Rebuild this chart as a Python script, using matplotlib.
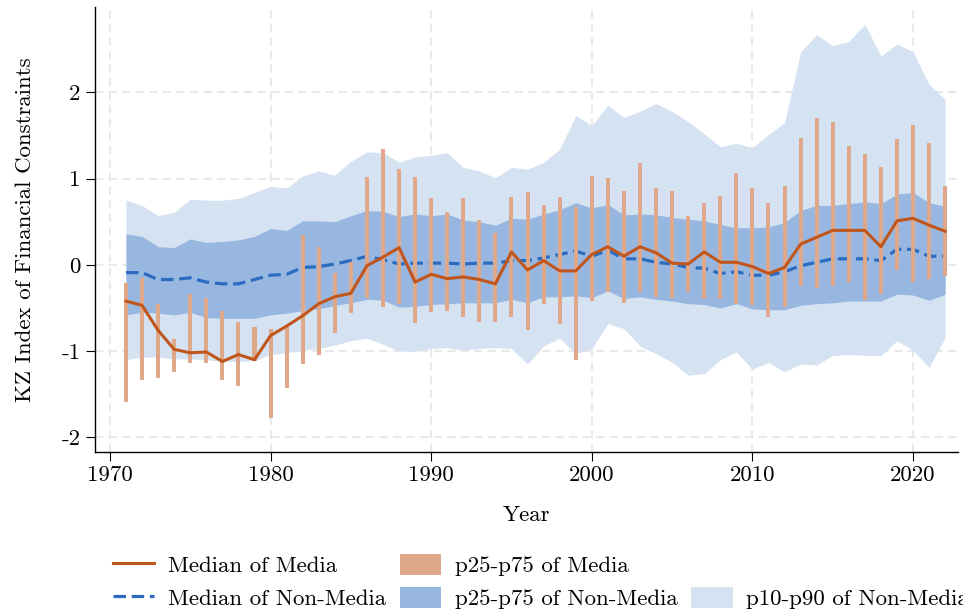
import numpy as np
import matplotlib
matplotlib.use("Agg")
import matplotlib.pyplot as plt
from matplotlib.patches import Patch
from matplotlib.lines import Line2D

plt.rcParams['font.family'] = ['cmr10', 'DejaVu Serif']
plt.rcParams['axes.unicode_minus'] = False
plt.rcParams['axes.formatter.use_mathtext'] = True

years = list(range(1971, 2023))

media_med = [-0.42, -0.47, -0.76, -0.98, -1.02, -1.01, -1.12, -1.04, -1.10, -0.82,
             -0.71, -0.59, -0.45, -0.37, -0.33, -0.01, 0.09, 0.20, -0.20, -0.11,
             -0.16, -0.14, -0.17, -0.22, 0.15, -0.06, 0.05, -0.07, -0.07, 0.12,
             0.21, 0.10, 0.21, 0.14, 0.02, 0.01, 0.15, 0.03, 0.03, -0.02,
             -0.10, -0.03, 0.24, 0.32, 0.40, 0.40, 0.40, 0.21, 0.51, 0.54,
             0.46, 0.39]

media_p25 = [-1.59, -1.34, -1.31, -1.24, -1.14, -1.14, -1.34, -1.40, -1.11, -1.78,
             -1.43, -1.15, -1.04, -0.79, -0.56, -0.38, -0.49, -0.45, -0.67, -0.55,
             -0.54, -0.60, -0.66, -0.66, -0.61, -0.76, -0.45, -0.68, -1.10, -0.42,
             -0.31, -0.44, -0.31, -0.37, -0.39, -0.31, -0.40, -0.40, -0.45, -0.47,
             -0.61, -0.49, -0.25, -0.27, -0.25, -0.20, -0.41, -0.34, -0.06, -0.20,
             -0.16, -0.13]

media_p75 = [-0.21, -0.15, -0.45, -0.86, -0.34, -0.39, -0.53, -0.66, -0.72, -0.74,
             -0.72, 0.35, 0.21, -0.09, 0.03, 1.02, 1.34, 1.11, 1.02, 0.77,
             0.61, 0.77, 0.52, 0.37, 0.79, 0.84, 0.69, 0.79, 0.67, 1.03,
             1.01, 0.86, 1.18, 0.89, 0.86, 0.57, 0.72, 0.80, 1.06, 0.89,
             0.72, 0.92, 1.47, 1.70, 1.66, 1.38, 1.29, 1.14, 1.46, 1.62,
             1.41, 0.92]

nonmedia_med = [-0.09, -0.09, -0.17, -0.17, -0.15, -0.20, -0.22, -0.22, -0.17, -0.12,
                -0.11, -0.03, -0.02, 0.01, 0.05, 0.10, 0.06, 0.01, 0.02, 0.02,
                0.02, 0.01, 0.02, 0.02, 0.05, 0.05, 0.08, 0.12, 0.16, 0.10,
                0.17, 0.07, 0.07, 0.03, 0.01, -0.03, -0.04, -0.10, -0.08, -0.12,
                -0.12, -0.08, -0.01, 0.03, 0.07, 0.07, 0.07, 0.05, 0.18, 0.18,
                0.10, 0.10]

nonmedia_p25 = [-0.58, -0.55, -0.56, -0.58, -0.55, -0.61, -0.62, -0.62, -0.62, -0.58,
                -0.56, -0.53, -0.51, -0.47, -0.44, -0.40, -0.41, -0.49, -0.48, -0.46,
                -0.45, -0.44, -0.44, -0.44, -0.40, -0.44, -0.37, -0.37, -0.36, -0.38,
                -0.30, -0.39, -0.37, -0.40, -0.42, -0.45, -0.46, -0.50, -0.45, -0.51,
                -0.52, -0.52, -0.47, -0.45, -0.44, -0.42, -0.42, -0.42, -0.34, -0.35,
                -0.41, -0.34]

nonmedia_p75 = [0.36, 0.33, 0.21, 0.20, 0.30, 0.26, 0.27, 0.29, 0.33, 0.42,
                0.40, 0.51, 0.51, 0.50, 0.57, 0.63, 0.62, 0.56, 0.59, 0.57,
                0.59, 0.52, 0.50, 0.46, 0.54, 0.53, 0.59, 0.64, 0.72, 0.66,
                0.70, 0.58, 0.59, 0.58, 0.55, 0.53, 0.51, 0.47, 0.43, 0.43,
                0.44, 0.49, 0.63, 0.69, 0.69, 0.71, 0.73, 0.71, 0.82, 0.84,
                0.72, 0.68]

nonmedia_p10 = [-1.10, -1.07, -1.07, -1.09, -1.09, -1.10, -1.12, -1.12, -1.11, -1.04,
                -1.02, -0.99, -0.97, -0.93, -0.88, -0.85, -0.92, -1.00, -1.00, -0.97,
                -0.96, -0.99, -0.97, -0.96, -0.97, -1.15, -0.94, -0.85, -1.03, -0.97,
                -0.68, -0.74, -0.94, -1.03, -1.13, -1.28, -1.26, -1.10, -1.01, -1.21,
                -1.13, -1.24, -1.15, -1.16, -1.05, -1.04, -1.05, -1.05, -0.88, -0.99,
                -1.19, -0.84]

nonmedia_p90 = [0.75, 0.69, 0.57, 0.61, 0.76, 0.75, 0.75, 0.77, 0.84, 0.91,
                0.89, 1.03, 1.09, 1.04, 1.20, 1.31, 1.30, 1.19, 1.25, 1.27,
                1.30, 1.13, 1.09, 1.01, 1.13, 1.11, 1.19, 1.34, 1.73, 1.62,
                1.85, 1.71, 1.78, 1.87, 1.78, 1.66, 1.52, 1.37, 1.41, 1.36,
                1.51, 1.65, 2.47, 2.67, 2.54, 2.59, 2.79, 2.42, 2.56, 2.47,
                2.09, 1.92]

x_ticks = [1970, 1980, 1990, 2000, 2010, 2020]
y_ticks = [-2, -1, 0, 1, 2]
y_tick_labels = ['-2', '-1', '0', '1', '2']

labels = ['Median of Media', 'Median of Non-Media', 'p25-p75 of Media',
          'p25-p75 of Non-Media', '', 'p10-p90 of Non-Media']

c_light = '#d5e2f1'
c_mid = '#97b6e0'
c_bar = '#dfa88b'
c_media = '#c0561c'
c_nonmedia = '#2b6cc0'

FS = 16.5

fig = plt.figure(figsize=(9.63, 6.15), dpi=100)
ax = fig.add_axes([95/963, 1 - 452/615, 863/963, 445/615])

ax.fill_between(years, nonmedia_p10, nonmedia_p90, color=c_light, lw=0, zorder=1)
ax.fill_between(years, nonmedia_p25, nonmedia_p75, color=c_mid, lw=0, zorder=2)
ax.plot(years, nonmedia_med, color=c_nonmedia, lw=2.3, linestyle=(0, (3.9, 1.8)), zorder=3)
p25 = np.array(media_p25)
p75 = np.array(media_p75)
ax.bar(years, p75 - p25, bottom=p25, width=0.25, color=c_bar, lw=0, zorder=4)
ax.plot(years, media_med, color=c_media, lw=2.2, zorder=5)

ax.set_xlim(1969.07, 2022.8)
ax.set_ylim(-2.17, 2.99)
ax.set_xticks(x_ticks)
ax.set_xticklabels([str(v) for v in x_ticks])
ax.set_yticks(y_ticks)
ax.set_yticklabels(y_tick_labels)
ax.tick_params(axis='both', labelsize=FS, length=6.5, width=0.8, direction='out')
ax.tick_params(axis='y', pad=4)
ax.tick_params(axis='x', pad=3)

ax.grid(True, color='#e9e9e9', linestyle=(0, (4, 2.5)), linewidth=1.5, zorder=0)
ax.set_axisbelow(True)
for s in ['top', 'right']:
    ax.spines[s].set_visible(False)
for s in ['left', 'bottom']:
    ax.spines[s].set_linewidth(1.0)

ax.set_xlabel('Year', fontsize=FS)
ax.set_ylabel('KZ Index of Financial Constraints', fontsize=FS)
ax.xaxis.set_label_coords(0.5, (452 - 505) / 445)
ax.yaxis.set_label_coords((35 - 95) / 863, 0.5)

blank = Patch(facecolor='none', edgecolor='none', lw=0)
handles = [
    Line2D([], [], color=c_media, lw=2.2),
    Line2D([], [], color=c_nonmedia, lw=2.3, linestyle=(0, (3.9, 1.8))),
    Patch(facecolor=c_bar, lw=0),
    Patch(facecolor=c_mid, lw=0),
    blank,
    Patch(facecolor=c_light, lw=0),
]
fig.legend(handles, labels, ncol=3, loc='upper left',
           bbox_to_anchor=(113/963, 1 - 554/615), frameon=False,
           fontsize=FS, borderpad=0, borderaxespad=0,
           handlelength=1.8, handleheight=1.05, handletextpad=0.6,
           columnspacing=0.6, labelspacing=0.45)

fig.savefig('out.png', dpi=100)
